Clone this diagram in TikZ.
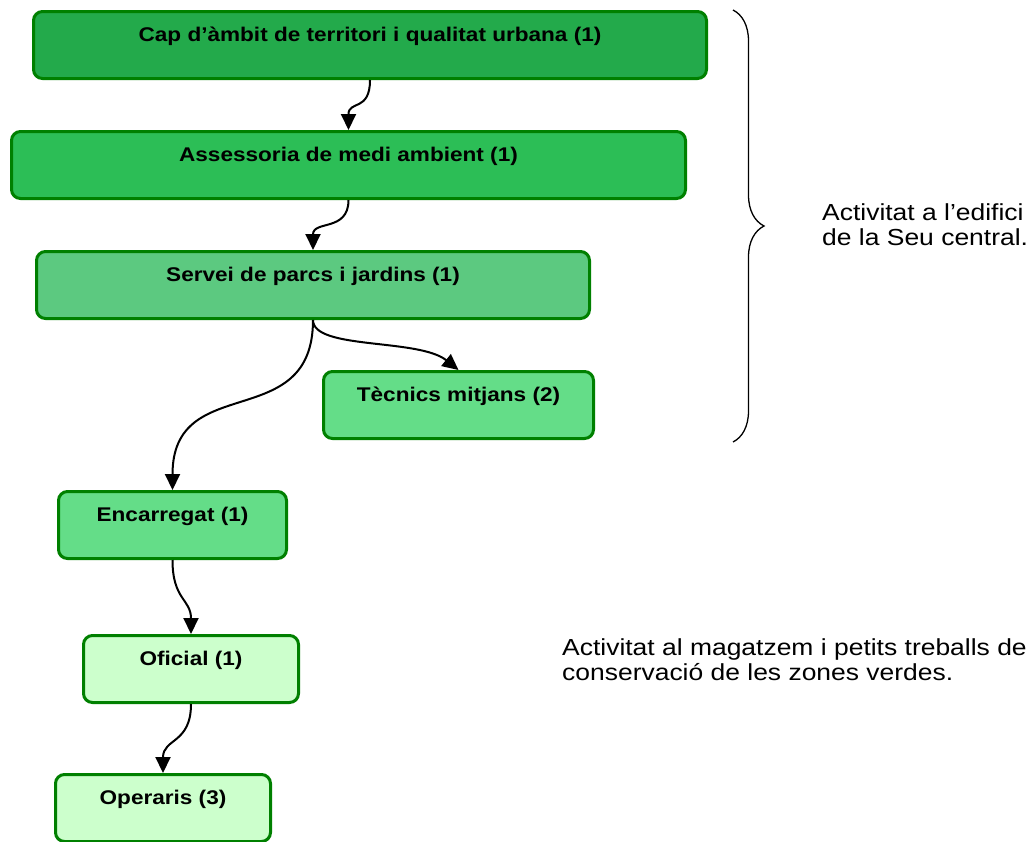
\documentclass[tikz,border=0pt]{standalone}
\usepackage{fontspec}
\setmainfont{Liberation Sans}[FakeStretch=1.14]
\usetikzlibrary{arrows.meta,decorations.pathreplacing}

\definecolor{boxline}{RGB}{0,128,0}
\definecolor{levelone}{RGB}{35,170,75}
\definecolor{leveltwo}{RGB}{44,190,86}
\definecolor{levelthree}{RGB}{92,201,128}
\definecolor{levelfour}{RGB}{100,221,136}
\definecolor{levelfive}{RGB}{204,255,204}

\newcommand{\boxfont}{\fontsize{19.8}{24}\selectfont\bfseries}
\newcommand{\notefont}{\fontsize{23.2}{25.5}\selectfont}

\tikzstyle{unit} = [rectangle, rounded corners=9pt, line width=3pt, draw=boxline, text height=29.5pt, text depth=37.5pt, inner ysep=0pt, anchor=north, font=\boxfont]
\tikzstyle{arrow} = [line width=2pt,->,>={Triangle[length=16pt,width=15pt]}]
\tikzstyle{note} = [anchor=north west, inner sep=0pt, align=left, font=\notefont]

\begin{document}
\begin{tikzpicture}[x=1pt,y=1pt]

\useasboundingbox[fill=white] (0,0) rectangle (1030,-841);
\clip (0,0) rectangle (1030,-841);

\node (cap) [unit, fill=levelone, minimum width=673pt] at (370,-10) {Cap d’àmbit de territori i qualitat urbana (1)};
\node (assessoria) [unit, fill=leveltwo, minimum width=674pt] at (348.5,-130) {Assessoria de medi ambient (1)};
\node (servei) [unit, fill=levelthree, minimum width=553pt] at (313,-250) {Servei de parcs i jardins (1)};
\node (tecnics) [unit, fill=levelfour, minimum width=270pt] at (458.5,-370) {Tècnics mitjans (2)};
\node (encarregat) [unit, fill=levelfour, minimum width=228pt] at (172.5,-490) {Encarregat (1)};
\node (oficial) [unit, fill=levelfive, minimum width=215pt] at (191,-634) {Oficial (1)};
\node (operaris) [unit, fill=levelfive, minimum width=215pt] at (163,-773) {Operaris (3)};

\draw [arrow] (cap.south) .. controls +(0,-32) and +(0,30) .. (assessoria.north);
\draw [arrow] (assessoria.south) .. controls +(0,-32) and +(0,30) .. (servei.north);
\draw [arrow] (servei.south) .. controls +(0,-30) and +(-40,32) .. (tecnics.north);
\draw [arrow] (servei.south) .. controls +(0,-115) and +(0,120) .. (encarregat.north);
\draw [arrow] (encarregat.south) .. controls +(0,-40) and +(0,35) .. (oficial.north);
\draw [arrow] (oficial.south) .. controls +(0,-40) and +(0,35) .. (operaris.north);

\coordinate (bracetop) at (733,-10);
\coordinate (bracebot) at (733,-442);
\draw [line width=1.3pt, decorate, decoration={brace, amplitude=31pt}] (bracetop) -- (bracebot);

\node (seu) [note] at (822,-203) {Activitat a l’edifici\\de la Seu central.};
\node (magatzem) [note] at (562,-638) {Activitat al magatzem i petits treballs de\\conservació de les zones verdes.};

\end{tikzpicture}
\end{document}
